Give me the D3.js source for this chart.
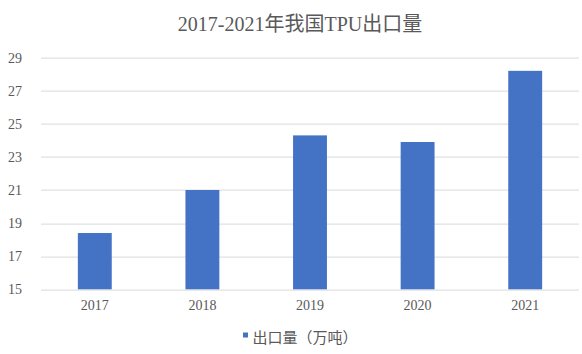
<!DOCTYPE html>
<html>
<head>
<meta charset="utf-8">
<script src="https://cdn.jsdelivr.net/npm/d3@7"></script>
<style>
  body { margin: 0; background: #fff; }
  svg text { font-family: "Liberation Serif", "Noto Sans CJK SC", serif; fill: #595959; }
</style>
</head>
<body>
<svg id="chart"></svg>
<script>
const years = ["2017", "2018", "2019", "2020", "2021"];
const exports = [18.4, 21.0, 24.3, 23.9, 28.2];
const yTicks = [15, 17, 19, 21, 23, 25, 27, 29];
const title = "2017-2021年我国TPU出口量";
const seriesName = "出口量（万吨）";

const width = 582, height = 354;
const margin = {top: 57.6, right: 3, bottom: 64.7, left: 41};
const innerW = width - margin.left - margin.right;
const innerH = height - margin.top - margin.bottom;

const svg = d3.select("#chart")
  .attr("width", width)
  .attr("height", height);

svg.append("text")
  .attr("x", 300)
  .attr("y", 31)
  .attr("text-anchor", "middle")
  .attr("font-size", "20px")
  .text(title);

const chart = svg.append("g")
  .attr("transform", `translate(${margin.left},${margin.top})`);

const x = d3.scaleBand()
  .domain(years)
  .range([0, innerW])
  .paddingInner(0.685)
  .paddingOuter(0.3425);

const y = d3.scaleLinear()
  .domain([15, 29])
  .range([innerH, 0]);

// gridlines
chart.append("g")
  .selectAll("line")
  .data(yTicks)
  .join("line")
  .attr("x1", 0)
  .attr("x2", innerW)
  .attr("y1", d => Math.round(y(d)) + 0.5)
  .attr("y2", d => Math.round(y(d)) + 0.5)
  .attr("stroke", "#d9d9d9")
  .attr("stroke-width", 1);

// y labels
chart.append("g")
  .selectAll("text")
  .data(yTicks)
  .join("text")
  .attr("x", -19)
  .attr("y", d => y(d))
  .attr("dy", "0.35em")
  .attr("text-anchor", "end")
  .attr("font-size", "14px")
  .text(d => d);

// bars
chart.selectAll("rect.bar")
  .data(years)
  .join("rect")
  .attr("class", "bar")
  .attr("x", d => x(d))
  .attr("width", x.bandwidth())
  .attr("y", (d, i) => y(exports[i]))
  .attr("height", (d, i) => innerH - y(exports[i]))
  .attr("fill", "#4472c4");

// x labels
chart.append("g")
  .selectAll("text")
  .data(years)
  .join("text")
  .attr("x", d => x(d) + x.bandwidth() / 2)
  .attr("y", innerH + 21)
  .attr("text-anchor", "middle")
  .attr("font-size", "14px")
  .text(d => d);

// legend
const legend = svg.append("g")
  .attr("transform", "translate(243,332.5)");
legend.append("rect")
  .attr("width", 5)
  .attr("height", 5)
  .attr("fill", "#4472c4");
legend.append("text")
  .attr("x", 9.5)
  .attr("y", 5)
  .attr("dy", "0.35em")
  .attr("font-size", "15px")
  .text(seriesName);
</script>
</body>
</html>
